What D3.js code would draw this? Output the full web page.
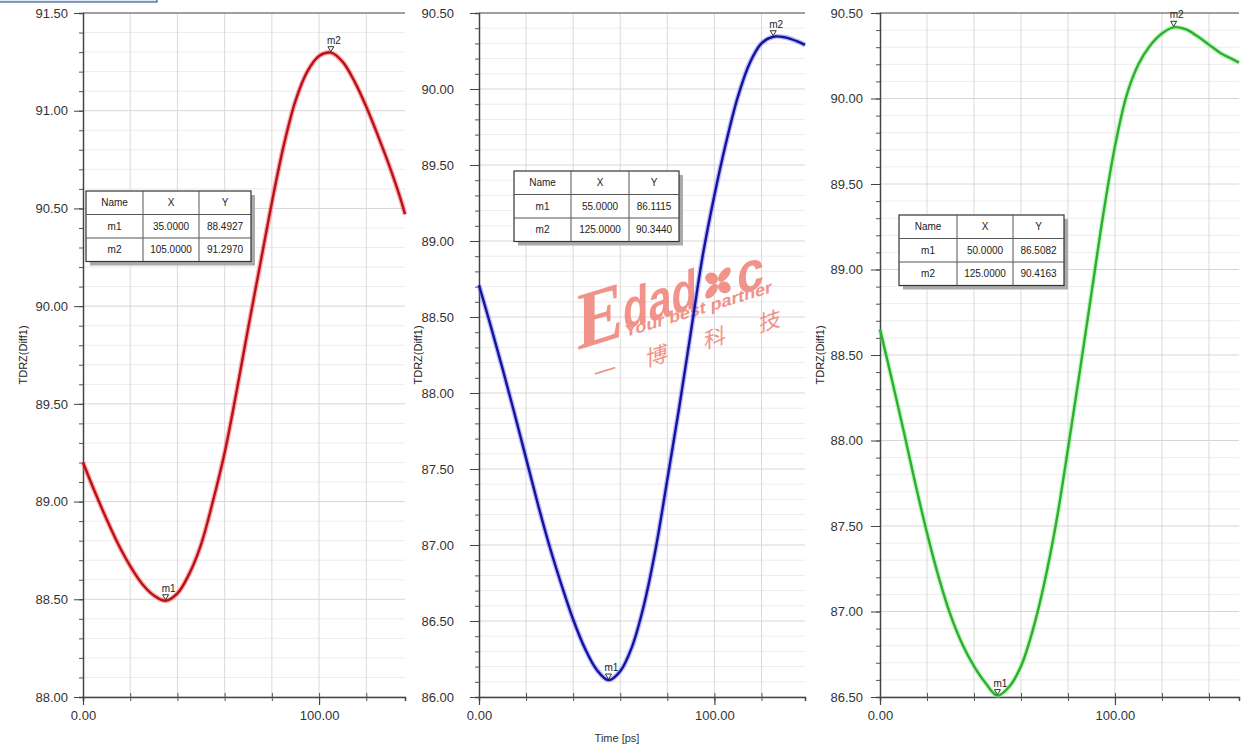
<!DOCTYPE html>
<html>
<head>
<meta charset="utf-8">
<script src="https://cdn.jsdelivr.net/npm/d3@7"></script>
<style>
    body { margin: 0; background: #ffffff; }
    svg { display: block; font-family: 'Liberation Sans', Arial, sans-serif; }
</style>
</head>
<body>
<svg id="tdr" width="1260" height="754"></svg>
<script>
'use strict';

// time in ps, impedance in ohm
var timeLeft = [0, 5, 10, 15, 20, 25, 30, 35, 40, 45, 50, 55, 60, 65, 70, 75, 80, 85, 90, 95, 100, 105, 110, 115, 120, 125, 130, 135, 136.4];
var tdrLeft = [89.20, 89.05, 88.91, 88.78, 88.67, 88.58, 88.52, 88.4927, 88.53, 88.63, 88.78, 89.00, 89.25, 89.56, 89.89, 90.21, 90.53, 90.82, 91.05, 91.20, 91.28, 91.297, 91.25, 91.15, 91.02, 90.87, 90.71, 90.53, 90.47];

var timeMiddle = [0, 5, 10, 15, 20, 25, 30, 35, 40, 45, 50, 55, 60, 65, 70, 75, 80, 85, 90, 95, 100, 105, 110, 115, 120, 125, 130, 135, 138.5];
var tdrMiddle = [88.71, 88.44, 88.16, 87.87, 87.57, 87.27, 86.99, 86.74, 86.51, 86.32, 86.18, 86.1115, 86.17, 86.33, 86.60, 86.97, 87.43, 87.90, 88.40, 88.90, 89.30, 89.65, 89.95, 90.17, 90.30, 90.344, 90.34, 90.315, 90.29];

var timeRight = [0, 5, 10, 15, 20, 25, 30, 35, 40, 45, 50, 55, 60, 65, 70, 75, 80, 85, 90, 95, 100, 105, 110, 115, 120, 125, 130, 135, 140, 145, 150, 152.8];
var tdrRight = [88.65, 88.36, 88.06, 87.75, 87.46, 87.20, 86.98, 86.81, 86.68, 86.58, 86.5082, 86.56, 86.68, 86.89, 87.17, 87.52, 87.95, 88.40, 88.86, 89.32, 89.72, 90.02, 90.20, 90.31, 90.38, 90.4163, 90.405, 90.365, 90.315, 90.265, 90.23, 90.21];

var markersLeft = [{ name: 'm1', x: 35, y: 88.4927 }, { name: 'm2', x: 105, y: 91.2970 }];
var markersMiddle = [{ name: 'm1', x: 55, y: 86.1115 }, { name: 'm2', x: 125, y: 90.3440 }];
var markersRight = [{ name: 'm1', x: 50, y: 86.5082 }, { name: 'm2', x: 125, y: 90.4163 }];

var tableHeader = ['Name', 'X', 'Y'];
var xTickLabels = [0, 100];
var yLabel = 'TDRZ(Diff1)';
var xLabel = 'Time [ps]';

var panels = [
    {
        time: timeLeft, tdr: tdrLeft, markers: markersLeft,
        left: 83, right: 405, xMax: 136.4, yMin: 88, yMax: 91.5,
        core: '#b5121b', glow: '#ff4a4a', labelGap: 15, titleX: 23,
        table: { x: 86, y: 191, cols: [57, 56, 52], rowH: 23.5 }
    },
    {
        time: timeMiddle, tdr: tdrMiddle, markers: markersMiddle,
        left: 479, right: 805, xMax: 138.5, yMin: 86, yMax: 90.5,
        core: '#14149a', glow: '#6a6aff', labelGap: 25, titleX: 418,
        table: { x: 514, y: 171, cols: [57, 58, 50], rowH: 23.5 }
    },
    {
        time: timeRight, tdr: tdrRight, markers: markersRight,
        left: 880, right: 1239, xMax: 152.8, yMin: 86.5, yMax: 90.5,
        core: '#2fae2f', glow: '#7df07d', labelGap: 17, titleX: 820,
        table: { x: 899, y: 215, cols: [58, 56, 51], rowH: 23.5 }
    }
];

var plotTop = 13,
    plotBottom = 697;

var svg = d3.select('#tdr');

// leftover window frame in the corner
svg.append('rect')
    .attr('x', -2).attr('y', -6)
    .attr('width', 159).attr('height', 8)
    .attr('fill', '#dfe8f5')
    .attr('stroke', '#3a5f95')
    .attr('stroke-width', 1.2);

function drawWatermark (g) {
    var salmon = '#f08a80';
    var wm = g.append('g')
        .attr('transform', 'translate(577,350) skewY(-17)')
        .attr('fill', salmon)
        .attr('opacity', 0.92);

    wm.append('text')
        .attr('x', 0).attr('y', 0)
        .attr('font-family', 'Liberation Serif, serif')
        .attr('font-weight', 'bold')
        .attr('font-size', 82)
        .attr('textLength', 46)
        .attr('lengthAdjust', 'spacingAndGlyphs')
        .text('E');

    wm.append('text')
        .attr('x', 46).attr('y', -6)
        .attr('font-weight', 'bold')
        .attr('font-size', 56)
        .attr('textLength', 74)
        .attr('lengthAdjust', 'spacingAndGlyphs')
        .text('dad');

    // four petal "o"
    var petals = wm.append('g').attr('transform', 'translate(141,-24)');
    [45, 135, 225, 315].forEach(function (a) {
        petals.append('ellipse')
            .attr('cx', 9).attr('cy', 0)
            .attr('rx', 7.5).attr('ry', 5)
            .attr('transform', 'rotate(' + a + ')');
    });

    wm.append('text')
        .attr('x', 160).attr('y', -6)
        .attr('font-weight', 'bold')
        .attr('font-size', 56)
        .attr('textLength', 27)
        .attr('lengthAdjust', 'spacingAndGlyphs')
        .text('c');

    wm.append('text')
        .attr('x', 48).attr('y', 2)
        .attr('font-weight', 'bold')
        .attr('font-size', 17)
        .attr('textLength', 147)
        .attr('lengthAdjust', 'spacingAndGlyphs')
        .text('Your best partner');

    var cjk = ['一', '博', '科', '技'],
        cjkX = [28, 80, 138, 193];
    cjk.forEach(function (c, i) {
        wm.append('text')
            .attr('x', cjkX[i]).attr('y', 38)
            .attr('text-anchor', 'middle')
            .attr('font-family', 'Noto Sans CJK SC, sans-serif')
            .attr('font-size', 22)
            .text(c);
    });
}

function drawPanel (p, idx) {
    var g = svg.append('g').attr('class', 'panel');

    var x = d3.scaleLinear().domain([0, p.xMax]).range([p.left, p.right]);
    var y = d3.scaleLinear().domain([p.yMin, p.yMax]).range([plotBottom, plotTop]);

    var minorY = d3.range(Math.round(p.yMin * 10), Math.round(p.yMax * 10) + 1).map(function (v) { return v / 10; });
    var majorY = minorY.filter(function (v) { return Math.abs(v * 2 - Math.round(v * 2)) < 1e-6; });
    var gridX = d3.range(20, p.xMax, 20);

    // grid
    g.append('g').selectAll('line')
        .data(minorY.filter(function (v) { return majorY.indexOf(v) < 0; }))
        .enter().append('line')
        .attr('x1', p.left).attr('x2', p.right)
        .attr('y1', function (d) { return y(d); })
        .attr('y2', function (d) { return y(d); })
        .attr('stroke', '#ececec');

    g.append('g').selectAll('line')
        .data(gridX)
        .enter().append('line')
        .attr('x1', function (d) { return x(d); })
        .attr('x2', function (d) { return x(d); })
        .attr('y1', plotTop).attr('y2', plotBottom)
        .attr('stroke', '#dadada');

    g.append('g').selectAll('line')
        .data(majorY)
        .enter().append('line')
        .attr('x1', p.left).attr('x2', p.right)
        .attr('y1', function (d) { return y(d); })
        .attr('y2', function (d) { return y(d); })
        .attr('stroke', '#d6d6d6');

    // frame top
    g.append('line')
        .attr('x1', p.left).attr('x2', p.right)
        .attr('y1', plotTop).attr('y2', plotTop)
        .attr('stroke', '#555');

    if (idx === 1) {
        drawWatermark(g);
    }

    // y axis
    var yAxis = d3.axisLeft(y)
        .tickValues(minorY)
        .tickSize(4)
        .tickFormat('');
    g.append('g')
        .attr('transform', 'translate(' + p.left + ',0)')
        .call(yAxis)
        .call(function (a) {
            a.select('.domain').attr('stroke', '#444').attr('stroke-width', 1.5);
            a.selectAll('.tick line').attr('stroke', '#555');
        });

    g.append('g')
        .attr('transform', 'translate(' + p.left + ',0)')
        .call(d3.axisLeft(y).tickValues(majorY).tickSize(9).tickPadding(p.labelGap - 9).tickFormat(d3.format('.2f')))
        .call(function (a) {
            a.select('.domain').remove();
            a.selectAll('.tick line').attr('stroke', '#444');
            a.selectAll('.tick text')
                .attr('font-family', 'Liberation Sans, Arial, sans-serif')
                .attr('font-size', 13)
                .attr('fill', '#333');
        });

    // x axis
    g.append('g')
        .attr('transform', 'translate(0,' + plotBottom + ')')
        .call(d3.axisBottom(x).tickValues(gridX).tickSize(4).tickFormat(''))
        .call(function (a) {
            a.select('.domain').attr('stroke', '#444').attr('stroke-width', 1.5);
            a.selectAll('.tick line').attr('stroke', '#555').attr('y1', -4);
        });

    g.append('g')
        .attr('transform', 'translate(0,' + plotBottom + ')')
        .call(d3.axisBottom(x).tickValues(xTickLabels).tickSize(8).tickPadding(6).tickFormat(d3.format('.2f')))
        .call(function (a) {
            a.select('.domain').remove();
            a.selectAll('.tick line').attr('stroke', '#444').attr('stroke-width', 1.2);
            a.selectAll('.tick text')
                .attr('font-family', 'Liberation Sans, Arial, sans-serif')
                .attr('font-size', 13)
                .attr('fill', '#333');
        });

    // axis title
    g.append('text')
        .attr('transform', 'translate(' + (p.titleX + 4) + ',' + ((plotTop + plotBottom) / 2) + ') rotate(-90)')
        .attr('text-anchor', 'middle')
        .attr('font-size', 11)
        .attr('fill', '#222')
        .text(yLabel);

    // curve
    var pts = p.time.map(function (t, i) { return [t, p.tdr[i]]; });
    var line = d3.line()
        .x(function (d) { return x(d[0]); })
        .y(function (d) { return y(d[1]); })
        .curve(d3.curveCatmullRom.alpha(0.5));

    g.append('path')
        .datum(pts)
        .attr('d', line)
        .attr('fill', 'none')
        .attr('stroke', p.glow)
        .attr('stroke-opacity', 0.45)
        .attr('stroke-width', 5);

    g.append('path')
        .datum(pts)
        .attr('d', line)
        .attr('fill', 'none')
        .attr('stroke', p.core)
        .attr('stroke-width', 2.4);

    // markers
    var mk = g.append('g').selectAll('g')
        .data(p.markers)
        .enter().append('g')
        .attr('transform', function (d) { return 'translate(' + x(d.x) + ',' + y(d.y) + ')'; });

    mk.append('path')
        .attr('d', 'M-3,-6 L3,-6 L0,-1 Z')
        .attr('fill', '#fff')
        .attr('stroke', '#333')
        .attr('stroke-width', 1);

    mk.append('text')
        .attr('x', 3).attr('y', -9)
        .attr('text-anchor', 'middle')
        .attr('font-size', 10)
        .attr('fill', '#222')
        .text(function (d) { return d.name; });

    // marker table
    var t = p.table,
        tw = d3.sum(t.cols),
        th = t.rowH * 3;
    var tg = g.append('g').attr('transform', 'translate(' + t.x + ',' + t.y + ')');

    tg.append('rect')
        .attr('x', 4).attr('y', 4)
        .attr('width', tw).attr('height', th)
        .attr('fill', '#aaa');

    tg.append('rect')
        .attr('width', tw).attr('height', th)
        .attr('fill', '#fff')
        .attr('stroke', '#333')
        .attr('stroke-width', 1.2);

    var colX = [0];
    t.cols.forEach(function (c, i) { colX.push(colX[i] + c); });

    [1, 2].forEach(function (i) {
        tg.append('line')
            .attr('x1', colX[i]).attr('x2', colX[i])
            .attr('y1', 0).attr('y2', th)
            .attr('stroke', '#555');
        tg.append('line')
            .attr('x1', 0).attr('x2', tw)
            .attr('y1', t.rowH * i).attr('y2', t.rowH * i)
            .attr('stroke', '#555');
    });

    var rows = [tableHeader].concat(p.markers.map(function (d) {
        return [d.name, d.x.toFixed(4), d.y.toFixed(4)];
    }));

    rows.forEach(function (r, ri) {
        r.forEach(function (cell, ci) {
            tg.append('text')
                .attr('x', (colX[ci] + colX[ci + 1]) / 2)
                .attr('y', t.rowH * ri + t.rowH / 2 + 3.5)
                .attr('text-anchor', 'middle')
                .attr('font-size', 10)
                .attr('fill', '#222')
                .text(cell);
        });
    });
}

panels.forEach(drawPanel);

svg.append('text')
    .attr('x', 617).attr('y', 742)
    .attr('text-anchor', 'middle')
    .attr('font-size', 11)
    .attr('fill', '#333')
    .text(xLabel);
</script>
</body>
</html>
